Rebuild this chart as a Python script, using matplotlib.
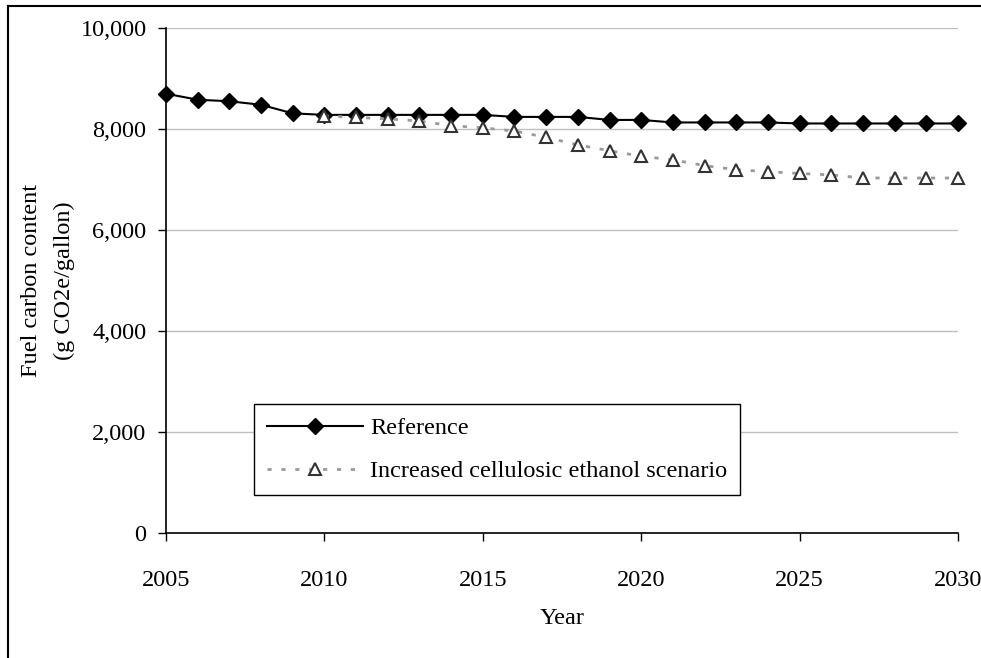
import matplotlib

matplotlib.use("Agg")
import matplotlib.pyplot as plt
from matplotlib.lines import Line2D
from matplotlib.ticker import FuncFormatter

years = list(range(2005, 2031))
reference = [8700, 8580, 8550, 8480, 8310, 8280, 8280, 8280, 8280, 8280,
             8280, 8240, 8240, 8240, 8180, 8180, 8130, 8130, 8130, 8130,
             8110, 8110, 8110, 8110, 8110, 8110]
cellulosic_years = list(range(2010, 2031))
cellulosic = [8260, 8230, 8200, 8160, 8065, 8025, 7960, 7835, 7685, 7570,
              7460, 7390, 7275, 7195, 7155, 7120, 7090, 7030, 7030, 7030,
              7030]
xticks = [2005, 2010, 2015, 2020, 2025, 2030]
yticks = [0, 2000, 4000, 6000, 8000, 10000]

plt.rcParams["font.family"] = ["Liberation Serif", "DejaVu Serif"]
FS = 17.5

fig = plt.figure(figsize=(9.81, 6.58), dpi=100)
ax = fig.add_axes([0.1692, 0.19, 0.8074, 0.7674])

# outer chart frame (left and top edges visible in the reference)
fig.add_artist(Line2D([8 / 981, 8 / 981], [0, 1 - 6 / 658], color="black", lw=1.5,
                      transform=fig.transFigure))
fig.add_artist(Line2D([8 / 981, 1], [1 - 6 / 658, 1 - 6 / 658], color="black", lw=1.5,
                      transform=fig.transFigure))

ax.plot(years, reference, color="black", lw=1.5, marker="D", markersize=8.5,
        markerfacecolor="black", markeredgecolor="black", label="Reference",
        clip_on=False, zorder=3)
ax.plot(cellulosic_years, cellulosic, color="#9a9a9a", lw=2, linestyle=(0, (1.5, 3.5)),
        marker="^", markersize=9, markerfacecolor="white", markeredgecolor="#333333",
        markeredgewidth=1.5, label="Increased cellulosic ethanol scenario",
        clip_on=False, zorder=4)

ax.set_xlim(2005, 2030)
ax.set_ylim(0, 10000)
ax.set_xticks(xticks)
ax.set_yticks(yticks)
ax.yaxis.set_major_formatter(FuncFormatter(lambda v, p: f"{int(v):,}"))
ax.tick_params(axis="both", labelsize=FS, direction="out", length=6, width=1)
ax.tick_params(axis="y", pad=8)
ax.tick_params(axis="x", pad=21)
ax.grid(True, axis="y", color="#c0c0c0", lw=1)
ax.set_axisbelow(True)
for s in ("top", "right"):
    ax.spines[s].set_visible(False)
for s in ("left", "bottom"):
    ax.spines[s].set_linewidth(1.2)

ax.set_xlabel("Year", fontsize=FS, labelpad=12)
ax.set_ylabel("Fuel carbon content\n(g CO2e/gallon)", fontsize=FS, labelpad=4,
              linespacing=1.75)

leg = ax.legend(loc="upper left", bbox_to_anchor=(0.111, 0.255), fontsize=FS,
                frameon=True, fancybox=False, edgecolor="black", framealpha=1,
                borderpad=0.53, handlelength=3.95, handletextpad=0.3,
                labelspacing=0.86, borderaxespad=0)
leg.get_frame().set_linewidth(1)

fig.savefig("out.png", dpi=100)
